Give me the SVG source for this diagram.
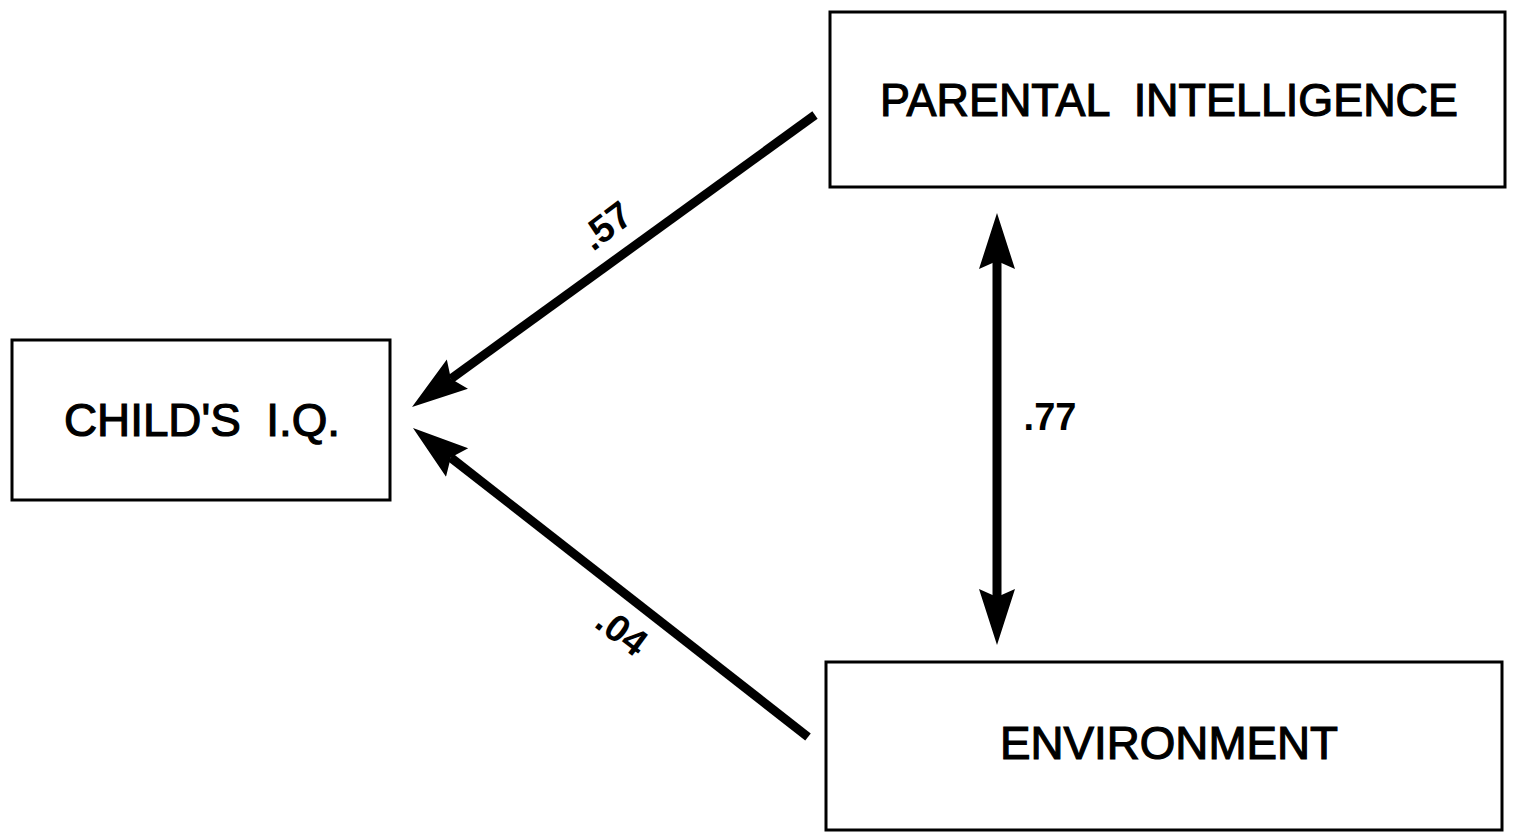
<svg xmlns="http://www.w3.org/2000/svg" width="1513" height="834" viewBox="0 0 1513 834">
<style>
.box{fill:#fff;stroke:#000;stroke-width:3}
.lbl{font-family:"Liberation Sans",Arial,sans-serif;font-size:46px;fill:#000;stroke:#000;stroke-width:1.2;text-anchor:middle;white-space:pre}
.num{font-family:"Liberation Sans",Arial,sans-serif;font-size:38px;font-weight:bold;fill:#000;text-anchor:middle}
.conn{stroke:#000;stroke-width:9;fill:none}
</style>
<defs>
<marker id="ah" markerUnits="userSpaceOnUse" markerWidth="60" markerHeight="40" refX="8" refY="20" orient="auto-start-reverse" viewBox="0 0 60 40">
<path d="M0,2 L56,20 L0,38 L8,20 Z" fill="#000"/>
</marker>
</defs>
<rect width="1513" height="834" fill="#fff"/>
<g id="node-child">
<rect class="box" x="12" y="340" width="378" height="160"/>
<text class="lbl" x="202" y="436" textLength="276" lengthAdjust="spacingAndGlyphs" xml:space="preserve">CHILD'S  I.Q.</text>
</g>
<g id="node-parental">
<rect class="box" x="830" y="12" width="675" height="175"/>
<text class="lbl" x="1169" y="116" textLength="578" lengthAdjust="spacingAndGlyphs" xml:space="preserve">PARENTAL  INTELLIGENCE</text>
</g>
<g id="node-environment">
<rect class="box" x="826" y="662" width="676" height="168"/>
<text class="lbl" x="1169" y="759" textLength="338" lengthAdjust="spacingAndGlyphs">ENVIRONMENT</text>
</g>
<g id="connectors">
<line class="conn" x1="815" y1="115" x2="450.9" y2="378.8" marker-end="url(#ah)"/>
<line class="conn" x1="808" y1="737" x2="450.8" y2="457.6" marker-end="url(#ah)"/>
<line class="conn" x1="997" y1="261" x2="997" y2="597" marker-start="url(#ah)" marker-end="url(#ah)"/>
<text class="num" x="0" y="0" transform="translate(614,236) rotate(-37)">.57</text>
<text class="num" x="0" y="0" transform="translate(614,642) rotate(37)">.04</text>
<text class="num" x="1050" y="430">.77</text>
</g>
</svg>
